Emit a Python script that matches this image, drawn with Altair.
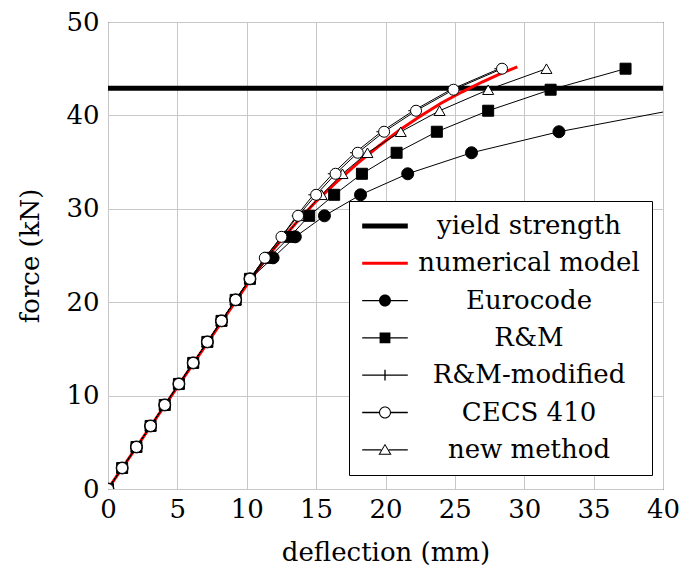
import altair as alt
import pandas as pd

FONT = "DejaVu Serif"

# ---- data ----
force = [0, 2.25, 4.5, 6.75, 9, 11.25, 13.5, 15.75, 18, 20.25, 22.5,
         24.75, 27, 29.25, 31.5, 33.75, 36, 38.25, 40.5, 42.75, 45]

lin_part = [0, 1.02, 2.05, 3.07, 4.09, 5.11, 6.14, 7.16, 8.18, 9.20, 10.23]

eurocode_defl = lin_part + [11.9, 13.5, 15.6, 18.2, 21.6, 26.2, 32.5, 40.5]
rm_defl = lin_part + [11.6, 13.1, 14.5, 16.3, 18.3, 20.8, 23.7, 27.4, 31.9, 37.3]
rmmod_defl = lin_part + [11.3, 12.5, 13.6, 14.8, 16.2, 17.8, 19.7, 22.0, 24.7, 28.2]
cecs_defl = lin_part + [11.3, 12.5, 13.7, 15.0, 16.4, 18.0, 19.9, 22.2, 24.9, 28.4]
new_defl = lin_part + [11.4, 12.7, 14.0, 15.4, 16.9, 18.7, 21.1, 23.9, 27.4, 31.6]

num_defl = [0, 10.3, 12.0, 13.5, 15.0, 16.5, 18.0, 19.5, 21.0, 22.5, 24.0, 25.5, 27.0, 28.5, 29.5]
num_force = [0, 22.5, 25.8, 28.4, 30.8, 32.9, 34.9, 36.7, 38.4, 39.9, 41.3, 42.5, 43.6, 44.6, 45.2]

yield_defl = [0, 40]
yield_force = [42.9, 42.9]

names = ["yield strength", "numerical model", "Eurocode", "R&M",
         "R&M-modified", "CECS 410", "new method"]


def frame(defl, f):
    return pd.DataFrame({"d": defl, "f": f[:len(defl)]})


x_enc = alt.X("d:Q", title="deflection (mm)",
              scale=alt.Scale(domain=[0, 40], nice=False, zero=False),
              axis=alt.Axis(values=[0, 5, 10, 15, 20, 25, 30, 35, 40], format="d",
                            labelFlush=False, labelOverlap=False))
y_enc = alt.Y("f:Q", title="force (kN)",
              scale=alt.Scale(domain=[0, 50], nice=False),
              axis=alt.Axis(values=[0, 10, 20, 30, 40, 50], format="d",
                            labelFlush=False, labelOverlap=False))


def line(df, color, width):
    return alt.Chart(df).mark_line(color=color, strokeWidth=width, clip=True).encode(x=x_enc, y=y_enc)


def pts(df, shape, fill, size, stroke="black"):
    return alt.Chart(df).mark_point(shape=shape, fill=fill, filled=(fill != "none"), stroke=stroke,
                                    strokeWidth=1, size=size, opacity=1, clip=True).encode(x=x_enc, y=y_enc)


d_yield = frame(yield_defl, yield_force)
d_num = frame(num_defl, num_force)
d_eu = frame(eurocode_defl, force)
d_rm = frame(rm_defl, force)
d_rmm = frame(rmmod_defl, force)
d_cecs = frame(cecs_defl, force)
d_new = frame(new_defl, force)

layers = [
    line(d_yield, "black", 5),
    line(d_num, "#ff0000", 3),
    line(d_eu, "black", 1),
    line(d_rm, "black", 1),
    line(d_rmm, "black", 1),
    line(d_cecs, "black", 1),
    line(d_new, "black", 1),
    pts(d_new, "triangle-up", "white", 121),
    pts(d_eu, "circle", "black", 144),
    pts(d_rm, "square", "black", 121),
    pts(d_rmm, "M-1,0H1M0,-1V1", "none", 100),
    pts(d_cecs, "circle", "white", 121),
]

# ---- legend: symbols drawn as line + marker paths ----
L = "M-1.9,-0.055H1.9V0.055H-1.9Z "
LL = "M-1.9,-0.055H-0.5V0.055H-1.9Z M0.5,-0.055H1.9V0.055H0.5Z "
LT = "M-1.9,-0.055H-0.32V0.055H-1.9Z M0.32,-0.055H1.9V0.055H0.32Z "
paths = [
    "M-1.9,-0.2H1.9V0.2H-1.9Z",
    "M-1.9,-0.13H1.9V0.13H-1.9Z",
    L + "M0.5,0A0.5,0.5,0,1,1,-0.5,0A0.5,0.5,0,1,1,0.5,0Z",
    L + "M-0.45,-0.45H0.45V0.45H-0.45Z",
    L + "M-0.055,-0.45H0.055V0.45H-0.055Z",
    LL + "M0.5,0A0.5,0.5,0,1,1,-0.5,0A0.5,0.5,0,1,1,0.5,0Z M0.41,0A0.41,0.41,0,1,0,-0.41,0A0.41,0.41,0,1,0,0.41,0Z",
    LT + "M0,-0.5L0.55,0.42L-0.55,0.42Z M0,-0.36L-0.4,0.33L0.4,0.33Z",
]
fills = ["black", "#ff0000", "black", "black", "black", "black", "black"]

leg = alt.Legend(title=None, orient="none", legendX=241, legendY=179, padding=12,
                 strokeColor="black", fillColor="white", labelFont=FONT, labelFontSize=26,
                 labelColor="black", labelAlign="center", labelOffset=131, labelLimit=500,
                 rowPadding=11.3, symbolOffset=11, symbolStrokeWidth=0, symbolSize=576,
                 symbolOpacity=1, cornerRadius=0)

legend_layer = alt.Chart(pd.DataFrame({"series": names})).mark_point(
    filled=True, size=576, strokeWidth=0, opacity=1, clip=True
).encode(
    x=alt.value(-300), y=alt.value(-300),
    fill=alt.Fill("series:N", scale=alt.Scale(domain=names, range=fills), legend=leg),
    shape=alt.Shape("series:N", scale=alt.Scale(domain=names, range=paths), legend=leg),
)

chart = alt.layer(*layers, legend_layer).properties(
    width=555, height=467,
    autosize=alt.AutoSizeParams(type="none"),
    padding={"left": 100, "top": 14, "right": 17, "bottom": 79},
).configure_view(stroke="black", strokeWidth=1).configure_axis(
    labelFont=FONT, labelFontSize=26, labelColor="black",
    titleFont=FONT, titleFontSize=26, titleColor="black", titleFontWeight="normal",
    grid=True, gridColor="#c8c8c8", gridWidth=1, domain=False, ticks=False,
).configure_axisX(labelPadding=7, titlePadding=17).configure_axisY(labelPadding=9, titlePadding=22)

chart.save("out.html", embed_options={"renderer": "svg", "actions": False})
